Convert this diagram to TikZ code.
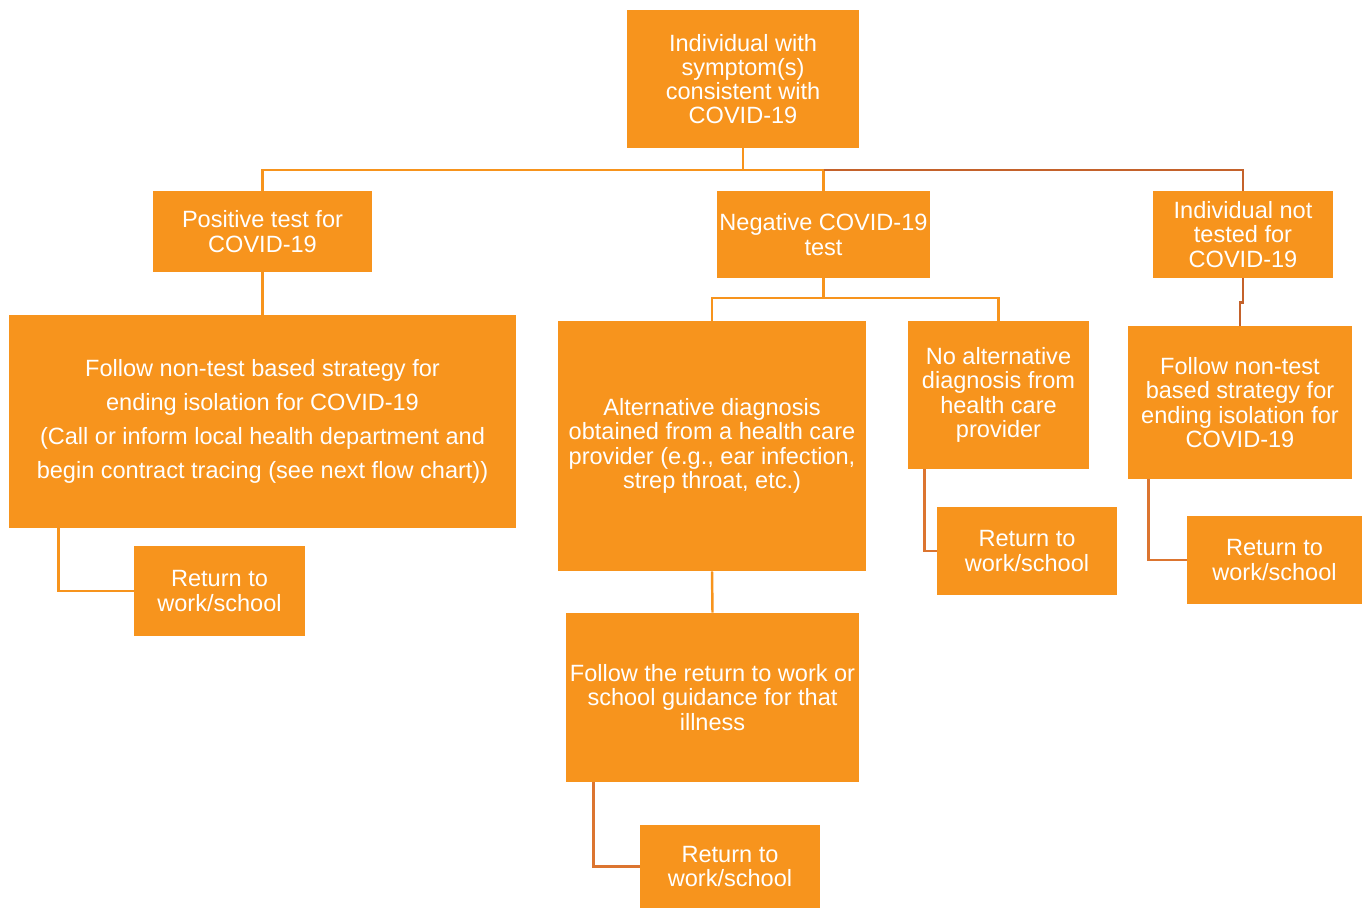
\documentclass[tikz,border=0pt]{standalone}
\usepackage{fontspec}
\setmainfont{Liberation Sans}
\usetikzlibrary{positioning}
\definecolor{boxorange}{HTML}{F7941D}
\definecolor{liteline}{HTML}{F7941D}
\definecolor{darkline}{HTML}{C4622B}
\definecolor{elbowline}{HTML}{DC7530}
\tikzset{
  box/.style={fill=boxorange,text=white,align=center,inner sep=0pt,
    font=\fontsize{13.4}{13.8}\selectfont},
  sz/.style 2 args={minimum width=#1*0.02cm,minimum height=#2*0.02cm},
  lite/.style={draw=liteline,line width=1.4pt},
  dark/.style={draw=darkline,line width=1.4pt},
  elbow/.style={draw=elbowline,line width=1.4pt}
}
\begin{document}
\begin{tikzpicture}[x=0.02cm,y=-0.02cm]
  \useasboundingbox (0,0) rectangle (1362,909);
  % boxes
  \node[box,sz={232}{138}] (top) at (743,79) {Individual with\\symptom(s)\\consistent with\\COVID-19};
  \node[box,sz={219}{81}] (pos) at (262.5,231.5) {Positive test for\\COVID-19};
  \node[box,sz={213}{87}] (neg) at (823.5,234.5) {Negative COVID-19\\test};
  \node[box,sz={180}{87}] (nott) at (1243,234.5) {Individual not\\tested for\\COVID-19};
  \node[box,sz={507}{213},font=\fontsize{13.4}{19.5}\selectfont] (folL) at (262.5,421.5)
    {Follow non-test based strategy for\\ending isolation for COVID-19\\(Call or inform local health department and\\begin contract tracing (see next flow chart))};
  \node[box,sz={171}{90}] (retA) at (219.5,591) {Return to\\work/school};
  \node[box,sz={308}{250}] (alt) at (712,446) {Alternative diagnosis\\obtained from a health care\\provider (e.g., ear infection,\\strep throat, etc.)};
  \node[box,sz={181}{148}] (noalt) at (998.5,395) {No alternative\\diagnosis from\\health care\\provider};
  \node[box,sz={180}{88}] (retB) at (1027,551) {Return to\\work/school};
  \node[box,sz={224}{153}] (folR) at (1240,402.5) {Follow non-test\\based strategy for\\ending isolation for\\COVID-19};
  \node[box,sz={175}{88}] (retC) at (1274.5,560) {Return to\\work/school};
  \node[box,sz={293}{169}] (ill) at (712.5,697.5) {Follow the return to work or\\school guidance for that\\illness};
  \node[box,sz={180}{83}] (retD) at (730,866.5) {Return to\\work/school};
  % connectors
  \coordinate (bus) at (743,170);
  \coordinate (nbus) at (823.5,298);
  \draw[lite] (top.south) -- (bus);
  \draw[lite] (bus) -| (pos.north);
  \draw[lite] (bus) -| (neg.north);
  \draw[dark] (neg.north |- bus) -| (nott.north);
  \draw[lite] (pos.south) -- (folL.north);
  \draw[lite] (neg.south) -- (nbus);
  \draw[lite] (nbus) -| (alt.north);
  \draw[lite] (nbus) -| (noalt.north);
  \draw[dark] (nott.south) -- ++(0,24) -| (folR.north);
  \draw[lite] (alt.south) -- (ill.north);
  \draw[lite] ([xshift=1cm]folL.south west) |- (retA.west);
  \draw[elbow] ([xshift=0.34cm]noalt.south west) |- (retB.west);
  \draw[elbow] ([xshift=0.42cm]folR.south west) |- (retC.west);
  \draw[elbow] ([xshift=0.56cm]ill.south west) |- (retD.west);
\end{tikzpicture}
\end{document}
